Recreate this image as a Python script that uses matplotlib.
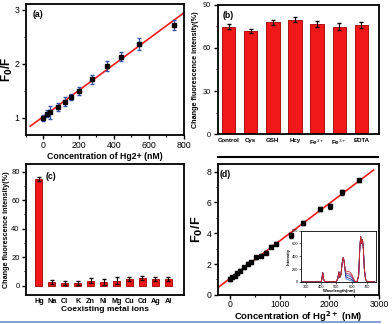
import numpy as np
import matplotlib
matplotlib.use('Agg')
import matplotlib.pyplot as plt
from matplotlib.ticker import MultipleLocator
from matplotlib.lines import Line2D

plt.rcParams['font.family'] = ['Liberation Sans', 'DejaVu Sans']

# (a) low range calibration
a_conc = [0, 19, 38, 83, 121, 159, 201, 279, 360, 444, 542, 743]
a_ratio = [1.00, 1.08, 1.105, 1.20, 1.30, 1.39, 1.50, 1.71, 1.96, 2.13, 2.37, 2.72]
a_err = [0.05, 0.06, 0.12, 0.08, 0.09, 0.06, 0.08, 0.09, 0.10, 0.08, 0.11, 0.10]
a_fit_range = [-75, 800]

# (b) interference of biomolecules
b_labels = ['Control', 'Cys', 'GSH', 'Hcy', 'Fe$^{2+}$', 'Fe$^{3+}$', 'EDTA']
b_vals = [74.9, 71.9, 78.0, 79.8, 76.8, 74.9, 75.9]
b_err = [2.0, 1.5, 1.8, 1.8, 2.0, 2.2, 2.2]

# (c) coexisting metal ions
c_labels = ['Hg', 'Na', 'Cl', 'K', 'Zn', 'Ni', 'Mg', 'Cu', 'Cd', 'Ag', 'Al']
c_vals = [74.9, 2.6, 1.9, 1.9, 3.5, 2.6, 3.5, 4.4, 5.4, 4.7, 4.7]
c_err = [1.2, 1.5, 1.6, 1.5, 1.8, 2.0, 2.2, 1.4, 1.6, 1.4, 1.3]

# (d) full range calibration
d_conc = [0, 45, 100, 150, 200, 280, 355, 420, 520, 620, 720, 820, 920,
          1220, 1470, 1810, 2010, 2255, 2590]
d_ratio = [1.00, 1.15, 1.25, 1.40, 1.58, 1.80, 2.02, 2.13, 2.45, 2.55, 2.74,
           3.11, 3.33, 3.87, 4.65, 5.58, 5.74, 6.65, 7.43]
d_err = [0.08, 0.08, 0.08, 0.08, 0.08, 0.09, 0.09, 0.09, 0.10, 0.10, 0.10,
         0.10, 0.10, 0.15, 0.12, 0.12, 0.15, 0.14, 0.12]
d_fit_range = [-250, 2890]

# inset spectra (wavelength nm, intensity)
spec_wl = [280, 400, 405, 411, 417, 425, 500, 510, 516, 522, 530, 538, 544, 550,
           556, 562, 570, 580, 590, 600, 610, 620, 635, 645, 652, 658, 664, 670,
           676, 682, 690, 700, 750]
spec_head = [0, 0, 40, 145, 40, 0, 5, 60, 155, 70, 120, 300, 380, 330, 200]
spec_tail = [5, 100, 500, 710, 600, 660, 500, 200, 40, 5, 0]
# drawn in this order, last on top
spec_mid = {
    '#3c78d8': [50, 40, 30, 22, 15, 5, 2],
    '#1a2a70': [80, 70, 60, 50, 35, 15, 3],
    '#2f55b0': [110, 100, 95, 85, 65, 30, 5],
    '#8a1f5c': [140, 130, 125, 115, 90, 45, 8],
    '#d42a2a': [175, 165, 160, 150, 120, 60, 10],
}

RED = '#f01818'
BAR_EDGE = '#a00000'


def style_axes(ax, fs):
    for s in ax.spines.values():
        s.set_linewidth(1.3)
    ax.tick_params(direction='out', width=1.0, length=3, labelsize=fs, pad=1.5)
    ax.tick_params(which='minor', direction='out', width=0.8, length=1.6)


fig = plt.figure(figsize=(3.92, 3.24), dpi=100)

# ---- (a)
ax = fig.add_axes([0.066, 0.583, 0.403, 0.405])
k, b = np.polyfit(a_conc, a_ratio, 1)
xf = np.array(a_fit_range)
ax.plot(xf, k * xf + b, color='#ee1c1c', lw=1.2, zorder=1)
ax.errorbar(a_conc, a_ratio, yerr=a_err, fmt='s', color='black', ms=3.2,
            ecolor='#3555a8', elinewidth=0.9, capsize=1.5, zorder=2)
ax.set_xlim(-100, 800)
ax.set_ylim(0.68, 3.11)
ax.xaxis.set_major_locator(MultipleLocator(200))
ax.xaxis.set_minor_locator(MultipleLocator(100))
ax.yaxis.set_major_locator(MultipleLocator(1))
ax.yaxis.set_minor_locator(MultipleLocator(0.5))
style_axes(ax, 6.3)
ax.set_xlabel('Concentration of Hg2+ (nM)', fontsize=6.3, fontweight='bold', labelpad=1)
ax.set_ylabel('F$_\\mathbf{0}$/F', fontsize=8.5, fontweight='bold')
ax.yaxis.set_label_coords(-0.07, 0.5)
ax.text(0.04, 0.955, '(a)', transform=ax.transAxes, va='top', fontsize=6.3,
        fontweight='bold')

# ---- (b)
ax = fig.add_axes([0.555, 0.586, 0.412, 0.399])
xb = np.arange(len(b_labels))
ax.bar(xb, b_vals, width=0.6, color=RED, edgecolor=BAR_EDGE, linewidth=0.6,
       yerr=b_err, error_kw=dict(ecolor='black', elinewidth=0.8, capsize=1.5))
ax.set_xlim(-0.5, 6.8)
ax.set_ylim(0, 90)
ax.set_xticks(xb)
ax.set_xticklabels(b_labels, fontweight='bold')
ax.yaxis.set_major_locator(MultipleLocator(30))
ax.yaxis.set_minor_locator(MultipleLocator(15))
style_axes(ax, 5.3)
ax.tick_params(axis='x', length=0, pad=2.5, labelsize=4.4)
ax.set_ylabel('Change fluorescence intensity(%)', fontsize=5.2, fontweight='bold',
              labelpad=3)
ax.text(0.03, 0.955, '(b)', transform=ax.transAxes, va='top', fontsize=6.3,
        fontweight='bold')

# ---- (c)
ax = fig.add_axes([0.066, 0.090, 0.403, 0.404])
xc = np.arange(len(c_labels))
ax.bar(xc, c_vals, width=0.55, color=RED, edgecolor=BAR_EDGE, linewidth=0.6,
       yerr=c_err, error_kw=dict(ecolor='black', elinewidth=0.8, capsize=1.3))
ax.set_xlim(-1.0, 11.2)
ax.set_ylim(-6.5, 85.5)
ax.set_xticks(xc)
ax.set_xticklabels(c_labels, fontweight='bold')
ax.yaxis.set_major_locator(MultipleLocator(20))
ax.yaxis.set_minor_locator(MultipleLocator(10))
style_axes(ax, 5.5)
ax.tick_params(axis='x', length=0, pad=2, labelsize=5.2)
ax.set_xlabel('Coexisting metal ions', fontsize=6.0, fontweight='bold', labelpad=1)
ax.set_ylabel('Change fluorescence intensity(%)', fontsize=5.2, fontweight='bold',
              labelpad=1)
ax.text(0.125, 0.94, '(c)', transform=ax.transAxes, va='top', fontsize=6.3,
        fontweight='bold')

# ---- (d)
ax = fig.add_axes([0.555, 0.090, 0.412, 0.404])
k, b = np.polyfit(d_conc, d_ratio, 1)
xf = np.array(d_fit_range)
ax.plot(xf, k * xf + b, color='#ee1c1c', lw=1.2, zorder=1)
ax.errorbar(d_conc, d_ratio, yerr=d_err, fmt='s', color='black', ms=2.6,
            ecolor='black', elinewidth=0.8, capsize=1.2, zorder=2)
ax.set_xlim(-250, 3000)
ax.set_ylim(0, 8.5)
ax.xaxis.set_major_locator(MultipleLocator(1000))
ax.xaxis.set_minor_locator(MultipleLocator(500))
ax.yaxis.set_major_locator(MultipleLocator(2))
ax.yaxis.set_minor_locator(MultipleLocator(1))
style_axes(ax, 6.2)
ax.tick_params(axis='x', pad=1)
ax.set_xlabel('Concentration of Hg$^{\\mathbf{2+}}$ (nM)', fontsize=6.8,
              fontweight='bold', labelpad=0)
ax.set_ylabel('F$_\\mathbf{0}$/F', fontsize=9.2, fontweight='bold', labelpad=1)
ax.text(0.015, 0.955, '(d)', transform=ax.transAxes, va='top', fontsize=6.3,
        fontweight='bold')

# inset
ins = fig.add_axes([0.768, 0.130, 0.192, 0.158])
for col, mid in spec_mid.items():
    ins.plot(spec_wl, spec_head + mid + spec_tail, color=col, lw=0.6)
ins.set_xlim(270, 760)
ins.set_ylim(0, 800)
ins.xaxis.set_major_locator(MultipleLocator(100))
ins.yaxis.set_major_locator(MultipleLocator(200))
for s in ins.spines.values():
    s.set_linewidth(0.6)
ins.tick_params(labelsize=2.8, length=1.2, width=0.4, pad=0.8)
ins.set_xlabel('Wavelength(nm)', fontsize=3, fontweight='bold', labelpad=0)
ins.set_ylabel('Intensity', fontsize=3, fontweight='bold', labelpad=0.5)

# stray rules from the source figure
fig.add_artist(Line2D([0.555, 0.964], [0.516, 0.516], color='black', lw=1.5))
fig.add_artist(Line2D([0.0, 0.97], [0.007, 0.007], color='#7090c8', lw=1.2))

fig.savefig('out.png', dpi=100)
